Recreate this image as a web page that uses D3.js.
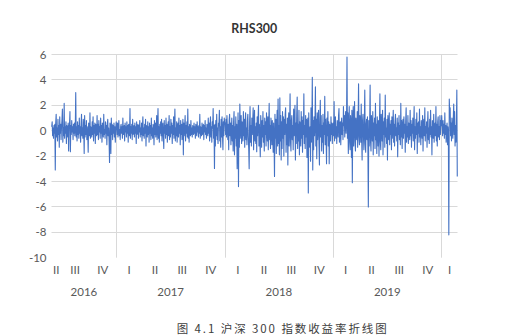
<!DOCTYPE html>
<html><head><meta charset="utf-8">
<script src="https://cdn.jsdelivr.net/npm/d3@7"></script>
<style>body{margin:0;background:#fff}svg{display:block}</style>
</head><body>
<svg id="c" width="531" height="336"></svg>
<script>
// Daily returns (%) of CSI 300, read/
const ret2016 = [
0.3,0.7,-0.4,0.2,-0.6,0.4,-0.2,0.5,-3.1,0.6,
1.3,-0.5,0.2,-0.8,0.9,-0.3,0.4,-1.3,1.1,-0.2,
0.5,-0.7,0.3,0.8,1.7,-0.9,0.2,-0.4,2.15,-0.6,
0.3,-0.2,0.7,-1.0,0.4,0.1,-0.5,0.6,-1.6,0.3,
0.5,1.5,-1.65,0.4,-0.3,0.8,-0.1,0.3,-0.7,0.5,
-0.2,0.6,-0.4,0.2,3.0,-0.5,0.3,-0.8,0.7,-0.3,
0.4,-0.6,1.0,-0.2,0.3,-0.9,0.5,1.3,-0.4,0.2,
-0.6,0.9,0.1,-1.8,1.2,-0.5,0.4,-0.3,0.8,-0.7,
0.3,-0.2,-1.7,0.6,0.2,-0.4,1.4,-0.6,0.3,0.1,
-0.5,0.7,-0.3,1.1,-0.8,0.4,-0.2,0.6,-1.0,0.5,
0.2,-0.4,1.2,-0.3,0.5,-0.7,0.8,-0.1,0.3,-0.6,
1.0,-0.2,0.4,-0.9,0.6,0.2,-0.5,1.3,-0.3,0.1,
-0.6,0.7,-0.2,0.4,-1.1,0.5,0.9,-0.4,0.2,-0.8,
-2.5,0.6,0.3,-1.8,1.0,-0.3,0.5,-0.7,0.4,-0.2,
0.6,-0.5,0.3,-0.9,0.2,0.7];
const ret2017 = [
0.4,-0.3,0.6,-0.5,0.2,0.8,-0.4,0.1,-0.7,0.3,
0.5,-0.2,0.3,-0.6,1.0,-0.3,0.2,0.4,-0.8,0.6,
-0.1,0.3,-0.5,0.7,-0.2,0.4,-0.9,0.5,0.2,-0.4,
1.75,-0.6,0.3,-0.2,0.5,-0.7,0.9,-0.3,0.1,0.4,
-0.5,0.6,-0.2,0.3,-1.0,0.7,-0.3,0.2,0.5,-0.6,
0.4,-0.1,0.8,-0.5,0.2,-0.3,0.6,-0.8,0.3,1.1,
-0.4,0.2,-0.6,0.5,-0.2,0.9,-1.2,0.4,0.1,-0.5,
0.7,-0.3,0.3,-0.9,0.6,-0.2,0.4,-0.7,1.0,-0.4,
0.2,-0.6,0.5,0.3,-1.1,0.8,-0.3,0.6,-0.5,0.2,
1.2,-0.7,0.4,1.75,-0.6,0.3,-0.9,0.5,-0.2,0.7,
-0.4,0.9,-0.8,0.3,0.6,-0.5,-1.4,0.8,-0.2,0.4,
-0.6,1.0,-0.3,0.5,-0.9,0.2,0.7,-0.4,1.2,-0.7,
0.3,-0.5,0.9,-0.2,0.6,-1.0,0.4,-0.3,1.1,-0.6,
0.5,1.7,-0.8,0.2,-0.4,0.7,-0.9,0.3,0.6,-0.5,
1.0,-0.2,0.4,-1.1,0.8,-0.3,0.5,-0.7,0.2,0.9,
-1.9,0.6,-0.4,0.3,1.2,-0.8,0.4,-0.2,0.7,-0.5,
1.7,-0.6,0.3,-0.9,0.5,0.1,-0.4,0.8,-0.3,0.2,
-0.5,0.4,0.1,-0.3,0.6,-0.2,0.3,-0.6,0.5,0.2,
-0.4,0.7,-0.1,0.3,-0.5,0.4,-0.2,1.3,-0.6,0.3,
0.2,-0.4,0.6,-0.3,0.1,0.5,-0.7,0.4,-0.1,0.8,
-0.3,0.2,-0.6,0.5,0.3,-0.4,1.0,-0.2,0.6,-0.8,
0.4,1.1,-0.5,0.3,-0.9,0.7,0.2,1.75,-0.6,0.4,
-2.97,0.5,-1.2,0.8,-0.4,1.3,-0.7,0.2,-1.0,0.6,
0.4,1.6,-0.8,0.3,-1.3,0.9,-0.5,1.1,-0.3,-1.5,
0.7,-0.4,1.0,0.5];
const ret2018 = [
0.6,-0.3,0.9,-0.5,1.2,0.3,-0.7,0.5,-1.5,0.8,
1.3,-0.4,0.6,-1.1,0.2,1.0,-0.8,0.4,-1.6,0.7,
1.5,-1.9,0.3,-0.6,1.1,-1.2,0.5,-3.0,-0.9,1.4,
-4.4,0.8,-1.3,2.1,0.4,-0.6,1.2,-1.0,0.7,0.3,
-0.8,1.5,-0.4,0.9,-1.3,0.6,1.4,-0.7,0.2,-1.1,
0.8,1.3,-0.5,-1.4,-3.0,0.6,1.9,-0.9,0.4,-1.2,
1.0,-0.3,0.7,1.8,-1.5,0.5,1.6,-0.8,0.3,-1.0,
0.6,-1.65,1.1,-0.4,0.9,2.0,-1.2,0.5,-0.7,-2.05,
1.2,0.3,-1.3,0.8,-0.5,1.5,-0.9,0.4,-1.6,1.0,
-0.3,0.7,-1.2,1.4,0.2,-0.8,1.1,-1.5,0.6,2.15,
-0.7,0.4,-1.4,1.0,0.3,-1.1,0.8,-0.5,-1.7,0.6,
-0.9,-3.6,1.3,-0.6,0.9,-1.8,0.5,1.6,-1.2,2.5,
-1.0,0.4,-1.9,2.6,-0.8,1.2,-2.3,0.7,-1.4,1.5,
-0.6,1.1,-2.0,0.9,-0.3,1.3,1.8,-1.7,0.5,-1.1,
1.0,-2.7,0.6,1.4,-1.2,0.3,2.9,-0.9,-1.6,0.8,
1.2,-0.7,0.4,-1.5,1.7,-0.4,0.9,2.0,-2.3,0.6,
-1.0,1.3,2.65,-1.4,0.5,-0.8,1.6,-1.9,0.7,0.2,
-1.2,1.5,-0.6,1.1,-1.7,0.8,-0.3,2.9,-1.0,0.4,
-1.4,1.2,-0.5,0.9,-2.1,0.6,1.0,-4.9,1.4,-1.3,
-0.6,0.3,-2.4,1.8,-0.9,0.5,4.2,-3.1,0.8,-1.5,
1.1,-0.4,0.6,3.45,-1.2,0.9,-2.2,1.4,-0.7,0.3,
1.6,-1.0,-2.7,0.8,2.4,-0.5,1.2,-1.6,0.4,-0.9,
1.3,-1.8,0.6,-0.3,2.7,-1.1,0.9,-0.6,-2.6,1.0,
-0.4,1.5,-1.2,0.7,-2.6,0.5,0.2,-0.8,1.1,-0.3,
0.6,-1.0,0.4];
const ret2019 = [
0.6,-0.4,2.3,-0.8,0.5,1.1,-0.6,0.3,-1.0,0.8,
0.4,-0.5,1.2,1.75,-0.9,0.2,0.7,-1.1,0.5,1.0,
-0.3,0.6,-0.7,1.9,0.4,1.2,-0.5,0.9,1.5,-0.2,
0.8,5.8,-0.6,1.4,-1.8,0.3,1.9,-0.9,-1.5,1.2,
0.5,-2.1,1.6,-4.1,0.7,1.9,-1.2,0.4,2.3,-0.8,
-1.6,1.0,0.3,-0.7,1.5,-1.3,0.6,3.7,-0.5,-1.1,
1.2,0.4,-0.9,2.1,-0.6,-2.3,0.8,1.3,-0.4,-1.5,
0.6,3.2,-1.0,-1.7,0.5,0.9,-0.7,1.1,-1.3,-6.0,
0.8,-1.2,0.4,3.6,-0.9,-1.6,1.2,0.3,-0.8,1.5,
-1.9,0.6,-0.4,1.0,-1.4,2.15,-0.7,0.5,-1.8,1.1,
0.3,-1.2,0.8,-2.0,0.6,2.9,-0.9,-1.5,1.3,0.4,
-0.8,1.6,-1.9,0.7,-0.3,1.0,-1.3,2.8,-0.5,0.2,
-1.0,0.9,-2.3,1.2,0.4,-0.7,1.4,-1.1,0.5,-0.3,
0.8,-1.5,1.1,-0.6,0.3,1.6,-0.9,0.5,-1.2,0.7,
1.3,-0.4,0.2,-0.8,1.0,-2.05,0.6,-0.3,1.2,-0.7,
0.4,-1.1,2.15,-0.5,0.8,-1.4,0.3,0.9,-0.6,1.1,
-0.2,0.5,-1.7,0.7,1.8,-0.9,0.3,-0.5,1.2,-1.0,
0.6,0.2,-0.7,1.6,-0.4,0.8,-1.3,0.5,-0.2,1.0,
-0.8,0.4,1.9,-1.5,0.3,-0.6,0.9,-0.3,1.4,-1.8,
0.6,-0.2,0.7,-0.9,1.7,-0.5,0.3,-1.1,0.8,0.2,
-0.6,1.2,-1.6,0.5,0.9,-0.4,1.8,-0.8,0.3,-0.2,
0.7,-1.3,0.4,1.5,-0.7,0.2,-1.0,0.9,-0.3,1.6,
-0.5,0.3,-1.9,0.8,0.4,-0.6,1.3,-0.9,0.2,0.6,
-0.4,1.9,-0.8,0.5,-1.2,0.7,1.1,-0.5,0.3,-0.7,
1.2,-0.3,0.8,0.4];
const ret2020 = [
1.2,0.3,-0.4,0.8,-0.2,0.5,-0.6,1.4,-0.3,0.4,
-0.9,0.2,0.6,-1.1,0.3,-0.5,-8.2,2.5,1.3,1.8,
-0.4,0.6,-0.8,1.0,0.2,-0.6,0.9,2.1,-0.3,1.5,
-1.2,0.4,-0.9,0.6,3.2,-3.6];

// Category axis: quarters (trading days per quarter) grouped by year
const quarterLabels = ["II","III","IV","I","II","III","IV","I","II","III","IV","I","II","III","IV","I"];
const quarterDays   = [21,64,61, 57,59,64,64, 58,60,63,62, 57,59,66,62, 36];
const yearLabels    = ["2016","2017","2018","2019","2020"];
const yearQuarters  = [3,4,4,4,1];
const yTicks = [-10,-8,-6,-4,-2,0,2,4,6];

const values = [].concat(ret2016, ret2017, ret2018, ret2019, ret2020);

const svg = d3.select("#c");
const L = 51.5, R = 457.5, T = 54.5, B = 257.7;
const x = d3.scaleLinear().domain([0, values.length]).range([L, R]);
const y = d3.scaleLinear().domain([-10, 6]).range([B, T]);
const axisFont = "Lato, 'Open Sans', sans-serif";

// horizontal gridlines
svg.append("g").selectAll("line").data(yTicks.filter(t => t > -10)).join("line")
  .attr("x1", L).attr("x2", R)
  .attr("y1", d => Math.floor(y(d)) + 0.5).attr("y2", d => Math.floor(y(d)) + 0.5)
  .attr("stroke", "#d9d9d9").attr("stroke-width", 1);

// year boundaries (vertical gridlines)
const qStart = [];
let acc = 0;
quarterDays.forEach(c => { qStart.push(acc); acc += c; });
const yearStart = [];
let qi = 0;
yearQuarters.forEach(n => { yearStart.push({s: qStart[qi], e: qStart[qi] + d3.sum(quarterDays.slice(qi, qi + n))}); qi += n; });
svg.append("g").selectAll("line").data(yearStart.slice(1)).join("line")
  .attr("x1", d => Math.round(x(d.s)) + 0.5).attr("x2", d => Math.round(x(d.s)) + 0.5)
  .attr("y1", T).attr("y2", B)
  .attr("stroke", "#d9d9d9").attr("stroke-width", 1);

// y labels
svg.append("g").selectAll("text").data(yTicks).join("text")
  .attr("x", 46.5).attr("y", d => y(d) + 4)
  .attr("text-anchor", "end")
  .attr("font-family", axisFont).attr("font-size", 11.5).attr("fill", "#595959")
  .text(d => d);

// quarter labels
svg.append("g").selectAll("text").data(quarterLabels).join("text")
  .attr("x", (d, i) => x(qStart[i] + quarterDays[i] / 2))
  .attr("y", 274)
  .attr("text-anchor", "middle")
  .attr("font-family", axisFont).attr("font-size", 11.5).attr("fill", "#595959")
  .text(d => d);

// year labels (only where the group is wide enough)
svg.append("g").selectAll("text").data(yearLabels.map((l, i) => ({l, ...yearStart[i]})).filter(d => x(d.e) - x(d.s) > 40)).join("text")
  .attr("x", d => x((d.s + d.e) / 2))
  .attr("y", 295.5)
  .attr("text-anchor", "middle")
  .attr("font-family", axisFont).attr("font-size", 11.5).attr("fill", "#595959")
  .text(d => d.l);

// line
const line = d3.line().x((d, i) => x(i + 0.5)).y(d => y(d));
svg.append("path").datum(values)
  .attr("d", line).attr("fill", "none")
  .attr("stroke", "#4472C4").attr("stroke-width", 1.1).attr("stroke-linejoin", "round");

// title
svg.append("text").attr("x", 254.3).attr("y", 33)
  .attr("text-anchor", "middle")
  .attr("font-family", axisFont).attr("font-weight", "bold").attr("font-size", 12.4).attr("fill", "#333")
  .text("RHS300");

// caption
svg.append("text").attr("x", 176.7).attr("y", 332.5)
  .attr("textLength", 210).attr("lengthAdjust", "spacing")
  .attr("font-family", "'Noto Sans CJK SC', sans-serif").attr("font-size", 11.5).attr("fill", "#404040")
  .text("图 4.1 沪深 300 指数收益率折线图");
</script>
</body></html>
